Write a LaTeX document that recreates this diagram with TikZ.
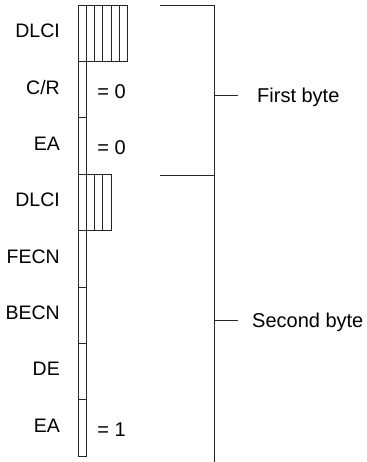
\documentclass[tikz,border=0pt]{standalone}
\usepackage{fontspec}
\setmainfont{Liberation Sans}
\usetikzlibrary{positioning}

\begin{document}
\begin{tikzpicture}[x=1pt, y=1pt,
    bit/.style={draw=black!85, line width=0.6pt, minimum width=8.2pt,
                minimum height=56.4pt, inner sep=0pt, outer sep=0pt},
    field/.style={font=\fontsize{19.5}{22}\selectfont, anchor=base east, inner sep=0pt},
    value/.style={font=\fontsize{20}{22}\selectfont, anchor=base west, inner sep=0pt},
    bracket/.style={draw=black!85, line width=0.6pt},
    byte/.style={font=\fontsize{20}{22}\selectfont, anchor=base west, inner sep=0pt}
  ]
  \useasboundingbox (0,0) rectangle (366,462);

  % one bit per field, top to bottom
  \foreach \name/\lab [count=\i] in {dlcia/DLCI, cr/{C/R}, eaa/EA, dlcib/DLCI,
                                     fecn/FECN, becn/BECN, de/DE, eab/EA} {
    \node[bit] (\name) at (82.1, 457-56.375*\i+28.19) {};
    \node[field] (\name-lab) at ([xshift=-18pt, yshift=-4.5pt]\name.west) {\lab};
  }

  % remaining DLCI bits
  \foreach \k in {1,...,5}
    \node[bit] (dlcia-\k) at ([xshift=\k*8.2pt]dlcia) {};
  \foreach \k in {1,...,3}
    \node[bit] (dlcib-\k) at ([xshift=\k*8.2pt]dlcib) {};

  \node[value] (cr-val) at ([xshift=11pt, yshift=-8.5pt]cr.east) {= 0};
  \node[value] (eaa-val) at ([xshift=11pt, yshift=-8.5pt]eaa.east) {= 0};
  \node[value] (eab-val) at ([xshift=11pt, yshift=-8.5pt]eab.east) {= 1};

  % byte brackets
  \coordinate (b1) at (160, 457);
  \coordinate (b2) at (160, 287);
  \coordinate (b3) at (214, 0);
  \draw[bracket] (b1) -| (b3);
  \draw[bracket] (b2) -- (b2 -| b3);

  \coordinate (k1) at (214, 367);
  \coordinate (k1e) at (238, 367);
  \coordinate (k2) at (214, 142);
  \coordinate (k2e) at (238, 142);
  \draw[bracket] (k1) -- (k1e);
  \draw[bracket] (k2) -- (k2e);

  \node[byte] (first) at (257, 359) {First byte};
  \node[byte] (second) at (252, 134) {Second byte};
\end{tikzpicture}
\end{document}
